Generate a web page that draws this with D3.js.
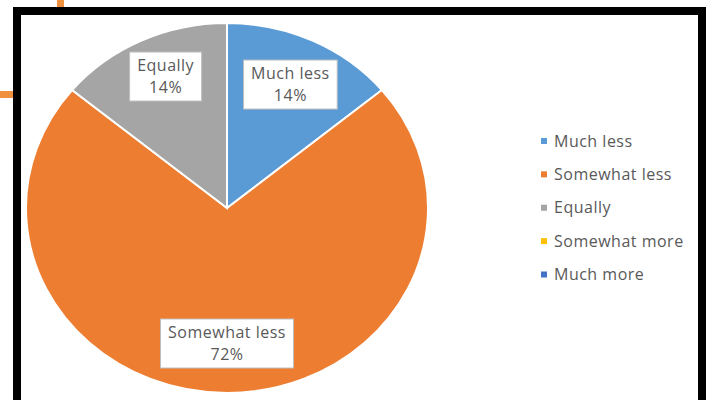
<!DOCTYPE html>
<html lang="en">
<head>
    <meta charset="UTF-8">
    <title>Pie chart</title>
    <style>
        body { margin: 0; background: #fff; }
        text { font-family: 'Open Sans', sans-serif; font-size: 16px; letter-spacing: 0.5px; fill: #595959; }
    </style>
</head>
<body>
    <svg width="710" height="400"></svg>

    <script src="https://d3js.org/d3.v7.min.js"></script>
    <script>

        // Data
        const categories = ['Much less', 'Somewhat less', 'Equally', 'Somewhat more', 'Much more'];
        const shares = [14, 72, 14, 0, 0];
        const colors = ['#5B9BD5', '#ED7D31', '#A5A5A5', '#FFC000', '#4472C4'];

        const data = categories.map(function (c, i) {
            return { label: c, value: shares[i] };
        });

        const svg = d3.select('svg');

        // Bits of an orange shape poking out from behind the frame
        svg.append('rect').attr('x', 57).attr('y', 0).attr('width', 7).attr('height', 8).attr('fill', '#F0913F');
        svg.append('rect').attr('x', 0).attr('y', 91).attr('width', 14).attr('height', 7).attr('fill', '#F0913F');

        // White chart area with thick black frame
        svg.append('rect')
            .attr('x', 17).attr('y', 11)
            .attr('width', 685).attr('height', 420)
            .attr('fill', '#fff')
            .attr('stroke', '#000')
            .attr('stroke-width', 8);

        const cx = 227, cy = 208;
        const radius = 185;
        const stretch = 201 / 185;   // the picture's pie is a bit wider than tall

        const colorScale = d3.scaleOrdinal().domain(categories).range(colors);

        const pie = d3.pie().sort(null).value(function (d) { return d.value; });
        const arcs = pie(data);

        const arc = d3.arc().innerRadius(0).outerRadius(radius);
        const labelArc = d3.arc().innerRadius(137).outerRadius(137);

        // excel's "best fit" nudges the Equally label a little
        const nudge = { 'Equally': [2, -8], 'Somewhat less': [0, -2] };

        const pieG = svg.append('g')
            .attr('transform', 'translate(' + cx + ' ' + cy + ') scale(' + stretch + ' 1)');

        pieG.selectAll('path')
            .data(arcs.filter(function (d) { return d.value > 0; }))
            .enter()
            .append('path')
            .attr('d', arc)
            .attr('fill', function (d) { return colorScale(d.data.label); })
            .attr('stroke', '#fff')
            .attr('stroke-width', 2)
            .attr('vector-effect', 'non-scaling-stroke');

        // Data labels in white boxes
        const labelG = svg.append('g');
        arcs.filter(function (d) { return d.value > 0; }).forEach(function (d) {
            const c = labelArc.centroid(d);
            const n = nudge[d.data.label] || [0, 0];
            const x = cx + c[0] * stretch + n[0];
            const y = cy + c[1] + n[1];
            const g = labelG.append('g').attr('transform', 'translate(' + x + ' ' + y + ')');
            const box = g.append('rect');
            const t1 = g.append('text').attr('text-anchor', 'middle').attr('y', -11).attr('dy', '0.35em').text(d.data.label);
            g.append('text').attr('text-anchor', 'middle').attr('y', 11.5).attr('dy', '0.35em').text(d.data.value + '%');
            const w = t1.node().getComputedTextLength() + 15;
            box.attr('x', -w / 2).attr('y', -24).attr('width', w).attr('height', 49)
                .attr('fill', '#fff').attr('stroke', '#BFBFBF').attr('stroke-width', 1);
        });

        // Legend
        const legendY = d3.scalePoint().domain(categories).range([141, 274.5]);
        const legend = svg.append('g').selectAll('g')
            .data(categories)
            .enter()
            .append('g')
            .attr('transform', function (d) { return 'translate(541 ' + legendY(d) + ')'; });

        legend.append('rect')
            .attr('x', 0).attr('y', -3).attr('width', 6).attr('height', 6)
            .attr('fill', function (d) { return colorScale(d); });

        legend.append('text')
            .attr('x', 13).attr('dy', '0.35em')
            .text(function (d) { return d; });

    </script>
</body>
</html>
